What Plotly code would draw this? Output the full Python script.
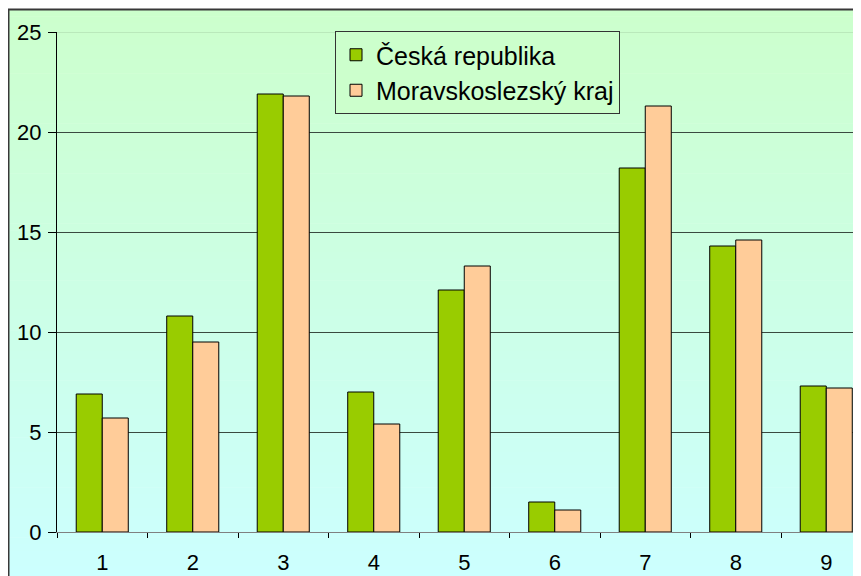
import plotly.graph_objects as go

categories = ["1", "2", "3", "4", "5", "6", "7", "8", "9"]
ceska_republika = [6.9, 10.8, 21.9, 7.0, 12.1, 1.5, 18.2, 14.3, 7.3]
moravskoslezsky_kraj = [5.7, 9.5, 21.8, 5.4, 13.3, 1.1, 21.3, 14.6, 7.2]
series_names = ["Česká republika", "Moravskoslezský kraj"]
y_ticks = [0, 5, 10, 15, 20, 25]

# page body has an 8px margin; figure coordinates below are page coords - 8
W, H = 861, 576
ML, MT, MB, MR = 49, 24, 52, 0
pw, ph = W - ML - MR, H - MT - MB

def px_to_paper_x(px):
    return (px - ML) / pw

def px_to_paper_y(py):
    return (H - MB - py) / ph

fig = go.Figure()
fig.add_trace(go.Bar(x=categories, y=ceska_republika, name=series_names[0],
                     marker=dict(color="#99CC00", line=dict(color="#000000", width=1))))
fig.add_trace(go.Bar(x=categories, y=moravskoslezsky_kraj, name=series_names[1],
                     marker=dict(color="#FFCC99", line=dict(color="#000000", width=1))))

shapes = []
# gradient background of chart area
top_px, bot_px = 1, 572
N = 80
c0 = (204, 255, 204)
c1 = (204, 255, 255)
for i in range(N):
    t = (i + 0.5) / N
    col = tuple(round(c0[k] + (c1[k] - c0[k]) * t) for k in range(3))
    y_a = top_px + (bot_px - top_px) * i / N
    y_b = top_px + (bot_px - top_px) * (i + 1) / N + 0.6
    shapes.append(dict(type="rect", xref="paper", yref="paper",
                       x0=px_to_paper_x(0), x1=px_to_paper_x(W + 20),
                       y0=px_to_paper_y(y_b), y1=px_to_paper_y(y_a),
                       fillcolor="rgb(%d,%d,%d)" % col, line=dict(width=0), layer="below"))
# chart-area border
shapes.append(dict(type="rect", xref="paper", yref="paper",
                   x0=px_to_paper_x(0.5), x1=px_to_paper_x(W + 20),
                   y0=px_to_paper_y(bot_px + 20), y1=px_to_paper_y(1.5),
                   fillcolor="rgba(0,0,0,0)", line=dict(color="#383838", width=2), layer="above"))
# light top border of plot area at 25
shapes.append(dict(type="line", xref="paper", yref="y", x0=0, x1=1.1, y0=25, y1=25,
                   line=dict(color="#A8D4A8", width=1), layer="between"))

fig.update_layout(
    width=W, height=H,
    margin=dict(l=ML, r=MR, t=MT, b=MB, pad=0, autoexpand=False),
    paper_bgcolor="white",
    plot_bgcolor="rgba(0,0,0,0)",
    barmode="group", bargap=0.425, bargroupgap=0,
    font=dict(family="Liberation Sans, Arial, sans-serif", color="#000000"),
    shapes=shapes,
    showlegend=True,
    legend=dict(x=px_to_paper_x(327), y=px_to_paper_y(23), xanchor="left", yanchor="top",
                bgcolor="#CCFFCC", bordercolor="#333333", borderwidth=1,
                font=dict(size=25, color="#000000"), tracegroupgap=0,
                itemwidth=30),
    xaxis=dict(type="category", range=[-0.5, -0.5 + pw / 90.5],
               tickson="boundaries", ticks="outside", ticklen=5, tickcolor="#000000",
               showline=True, linecolor="#808080", linewidth=1,
               showgrid=False, zeroline=False, automargin=False,
               tickfont=dict(size=22), ticklabelstandoff=11),
    yaxis=dict(range=[0, 25], tickvals=y_ticks, ticks="outside", ticklen=8,
               tickcolor="#000000", showline=True, linecolor="#000000", linewidth=1,
               showgrid=True, gridcolor="#3a4a40", gridwidth=1, zeroline=False,
               automargin=False,
               tickfont=dict(size=22), ticklabelstandoff=2),
)

fig.write_html("out.html")
